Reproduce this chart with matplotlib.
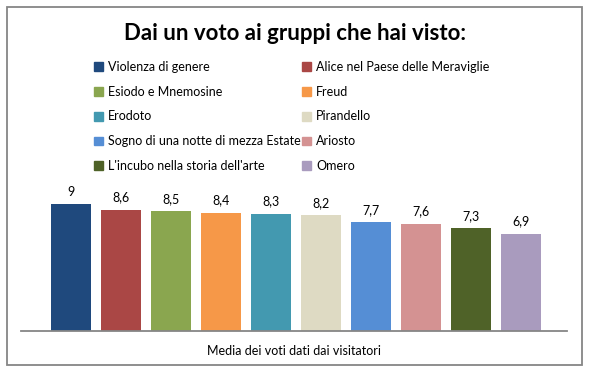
import matplotlib.pyplot as plt
from matplotlib.patches import Rectangle, Patch

groups = ["Violenza di genere", "Alice nel Paese delle Meraviglie", "Esiodo e Mnemosine",
          "Freud", "Erodoto", "Pirandello", "Sogno di una notte di mezza Estate",
          "Ariosto", "L'incubo nella storia dell'arte", "Omero"]
votes = [9, 8.6, 8.5, 8.4, 8.3, 8.2, 7.7, 7.6, 7.3, 6.9]
colors = ["#1F497D", "#AA4745", "#8AA64F", "#F69848", "#4399B0",
          "#DEDAC3", "#558ED5", "#D49292", "#4F6228", "#A99BBE"]
category = "Media dei voti dati dai visitatori"

plt.rcParams['font.family'] = ['Lato', 'DejaVu Sans']

W, H = 591, 374
fig = plt.figure(figsize=(W / 100, H / 100), dpi=100)

# outer frame
fig.patches.append(Rectangle((7 / W, 1 - 365 / H), 575 / W, 358 / H, transform=fig.transFigure,
                             fill=False, edgecolor="#868686", linewidth=1.3))

ax = fig.add_axes([21 / W, 1 - 331 / H, 546 / W, 141 / H])
xs = list(range(len(votes)))
bars = ax.bar(xs, votes, width=0.8, color=colors)
for x, v in zip(xs, votes):
    ax.text(x, v + 0.45, str(v).replace(".", ","), ha="center", va="bottom", fontsize=9)

ax.set_xlim(-1.0, 9.92)
ax.set_ylim(0, 10)
ax.set_yticks([])
ax.set_xticks([(-1.0 + 9.92) / 2])
ax.set_xticklabels([category], fontsize=9)
ax.tick_params(axis="x", length=0, pad=10)
for s in ["top", "left", "right"]:
    ax.spines[s].set_visible(False)
ax.spines["bottom"].set_color("#868686")
ax.spines["bottom"].set_linewidth(1.3)

fig.text(295 / W, 1 - 33 / H, "Dai un voto ai gruppi che hai visto:", ha="center", va="center",
         fontsize=16, fontweight="bold")

handles = [Patch(color=c) for c in colors]
order = [0, 2, 4, 6, 8, 1, 3, 5, 7, 9]
fig.legend([handles[i] for i in order], [groups[i] for i in order], ncol=2,
           loc="upper left", bbox_to_anchor=(94 / W, 1 - 61 / H), frameon=False,
           fontsize=9, handlelength=0.7, handleheight=0.7, handletextpad=0.4,
           columnspacing=0.15, labelspacing=1.02, borderaxespad=0, borderpad=0)

fig.savefig("out.png", dpi=100)
